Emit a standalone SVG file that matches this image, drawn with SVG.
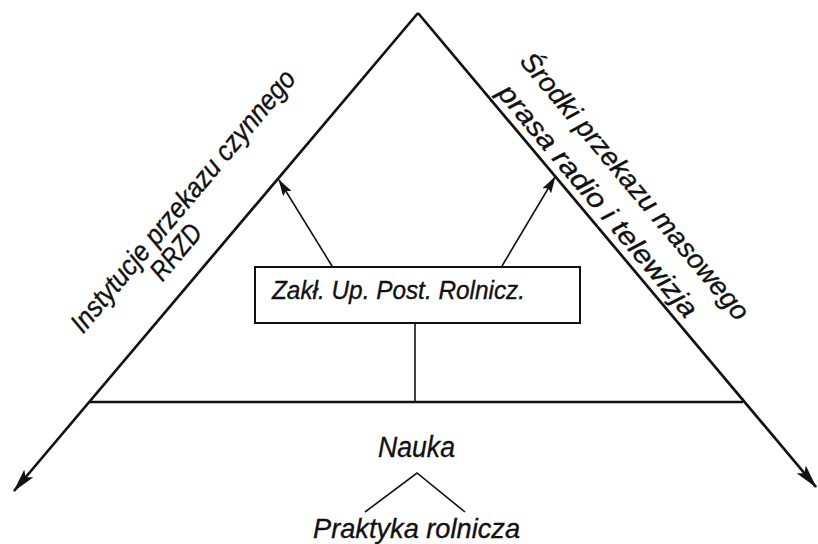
<svg xmlns="http://www.w3.org/2000/svg" width="818" height="544" viewBox="0 0 818 544">
<style>
  .t { font-family: "Liberation Sans", Arial, sans-serif; font-style: italic; fill: #111; stroke: #111; stroke-width: 0.35; }
  .edge { stroke: #111; stroke-width: 2.7; fill: none; }
  .thin { stroke: #111; stroke-width: 1.6; fill: none; }
</style>
<defs>
  <marker id="bigArrow" markerUnits="userSpaceOnUse" viewBox="0 0 24 12" refX="23" refY="6" markerWidth="24" markerHeight="12" orient="auto">
    <path d="M0,0 L24,6 L0,12 L5,6 Z" fill="#111"/>
  </marker>
  <marker id="smallArrow" markerUnits="userSpaceOnUse" viewBox="0 0 17 10" refX="16" refY="5" markerWidth="17" markerHeight="10" orient="auto">
    <path d="M0,0 L17,5 L0,10 L3,5 Z" fill="#111"/>
  </marker>
</defs>
<rect width="818" height="544" fill="#fff"/>

<g id="connectors">
  <path class="edge" d="M418,13 L14,491" marker-end="url(#bigArrow)"/>
  <path class="edge" d="M418,13 L816,487" marker-end="url(#bigArrow)"/>
  <path class="edge" d="M90,402 L743,402"/>
  <path class="thin" d="M415,323 L415,402"/>
  <path class="thin" d="M332,266 L279,180" marker-end="url(#smallArrow)"/>
  <path class="thin" d="M502,266 L555,177" marker-end="url(#smallArrow)"/>
  <path class="thin" d="M365,512 L417,473 L465,512"/>
</g>

<g id="box">
  <rect x="255" y="267" width="325" height="56" fill="#fff" stroke="#111" stroke-width="2"/>
  <text class="t" x="272" y="299" font-size="25" textLength="253" lengthAdjust="spacingAndGlyphs">Zakł. Up. Post. Rolnicz.</text>
</g>

<g id="left-label">
  <text class="t" transform="translate(190,207) rotate(-50)" text-anchor="middle" font-size="28" textLength="333" lengthAdjust="spacingAndGlyphs">Instytucje przekazu czynnego</text>
  <text class="t" transform="translate(183,258) rotate(-50)" text-anchor="middle" font-size="28" textLength="64" lengthAdjust="spacingAndGlyphs">RRZD</text>
</g>

<g id="right-label">
  <text class="t" transform="translate(628,192) rotate(50)" text-anchor="middle" font-size="27" textLength="340" lengthAdjust="spacingAndGlyphs">Środki przekazu masowego</text>
  <text class="t" transform="translate(591,206.5) rotate(50)" text-anchor="middle" font-size="27" textLength="295" lengthAdjust="spacingAndGlyphs">prasa radio i telewizja</text>
</g>

<g id="nauka">
  <text class="t" x="378" y="457" font-size="30" textLength="77" lengthAdjust="spacingAndGlyphs">Nauka</text>
</g>

<g id="praktyka">
  <text class="t" x="313" y="538" font-size="28" textLength="207" lengthAdjust="spacingAndGlyphs">Praktyka rolnicza</text>
</g>
</svg>
